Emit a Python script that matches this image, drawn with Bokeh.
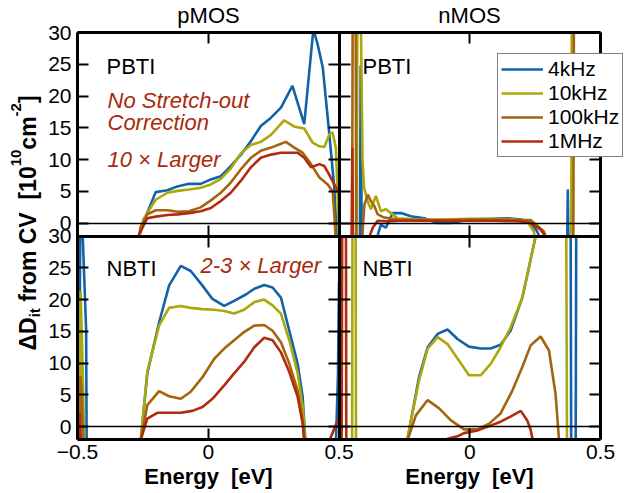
import math
from bokeh.plotting import figure
from bokeh.models import Range1d, LinearAxis, FixedTicker, Label, Legend, LegendItem
from bokeh.embed import file_html
from bokeh.resources import INLINE

nan = float("nan")

FREQS = ["4kHz", "10kHz", "100kHz", "1MHz"]
COLORS = ["#1262a8", "#aaa80c", "#a3650e", "#b12c0e"]
X_TICKS = [-0.5, 0.0, 0.5]          # each panel
Y_TICKS = [0, 5, 10, 15, 20, 25, 30]  # each panel
E_RANGE = (-0.5, 0.5)
V_RANGE = (-2.0, 30.0)
FONT = "Liberation Sans"

# ---------------- pMOS, PBTI (top left) ----------------
PP_E_4K = [-0.272, -0.247, -0.201, -0.156, -0.118, -0.074, -0.029, 0.010, 0.048, 0.086, 0.125, 0.163,
           0.201, 0.240, 0.278, 0.322, 0.367, 0.402, 0.418, 0.438, 0.463, 0.482, 0.492]
PP_V_4K = [-3.0, 0.3, 4.9, 5.2, 5.8, 6.2, 6.2, 6.9, 7.4, 9.0, 10.8, 12.9,
           15.3, 16.6, 18.2, 21.6, 15.6, 30.5, 28.2, 24.5, 14.0, 5.6, -3.0]
PP_E_10K = [-0.270, -0.247, -0.201, -0.156, -0.118, -0.074, -0.029, 0.010, 0.048, 0.086, 0.125, 0.163,
            0.201, 0.240, 0.290, 0.329, 0.367, 0.399, 0.425, 0.444, 0.463, 0.475, 0.488, 0.494, 0.500]
PP_V_10K = [-3.0, 0.7, 3.7, 4.8, 5.1, 5.3, 5.6, 6.1, 7.0, 8.6, 11.0, 12.3,
            12.8, 13.9, 16.2, 15.2, 14.9, 12.7, 12.1, 12.0, 14.0, 14.3, 11.9, 5.6, -2.0]
PP_E_100K = [-0.268, -0.259, -0.233, -0.201, -0.156, -0.118, -0.074, -0.029, 0.010, 0.048, 0.086, 0.125,
             0.163, 0.201, 0.240, 0.271, 0.297, 0.329, 0.361, 0.393, 0.425, 0.457, 0.476, 0.482, 0.488]
PP_V_100K = [-3.0, -0.6, 1.4, 2.05, 2.05, 1.8, 1.9, 2.5, 3.6, 4.8, 6.4, 8.5,
             10.3, 11.4, 11.9, 12.4, 12.8, 11.9, 11.1, 9.3, 7.2, 6.1, 5.0, 1.4, -3.0]
PP_E_1M = [-0.272, -0.265, -0.233, -0.201, -0.156, -0.118, -0.074, -0.029, 0.010, 0.048, 0.086, 0.125,
           0.163, 0.201, 0.240, 0.278, 0.316, 0.342, 0.367, 0.393, 0.425, 0.444, 0.463, 0.482, 0.500]
PP_V_1M = [-3.0, -1.8, 0.8, 1.05, 1.3, 1.4, 1.6, 1.9, 2.4, 3.5, 4.8, 6.7,
           8.8, 10.3, 10.8, 11.1, 11.1, 11.1, 10.3, 8.8, 9.3, 9.0, 7.6, 6.1, 4.8]

# ---------------- pMOS, NBTI (bottom left) ----------------
PN_E_4K = [-0.493, -0.489, -0.467, -0.465, nan,
           -0.259, -0.233, -0.188, -0.150, -0.105, -0.067, -0.022, 0.016, 0.061, 0.099, 0.144, 0.176,
           0.214, 0.246, 0.278, 0.310, 0.342, 0.361, 0.372, nan,
           0.488, 0.496, 0.502]
PN_V_4K = [-3.0, 40.0, 15.3, -3.0, nan,
           -2.5, 8.4, 16.4, 22.2, 25.3, 24.5, 22.2, 20.1, 19.0, 19.8, 20.8, 21.7,
           22.3, 21.9, 20.3, 15.1, 9.9, 4.7, -2.5, nan,
           -3.0, 8.0, 30.0]
PN_E_10K = [-0.491, -0.4885, -0.483, -0.478, -0.475, nan,
            -0.259, -0.233, -0.188, -0.150, -0.105, -0.067, -0.022, 0.023, 0.061, 0.099, 0.137, 0.176,
            0.214, 0.246, 0.278, 0.310, 0.342, 0.361, 0.372]
PN_V_10K = [-3.0, 21.4, 14.0, 5.0, -3.0, nan,
            -2.5, 8.7, 15.9, 18.7, 19.0, 18.7, 18.5, 18.4, 18.2, 17.8, 18.4, 19.6,
            20.0, 19.1, 17.8, 13.6, 8.4, 3.2, -2.5]
PN_E_100K = [-0.492, -0.489, -0.483, -0.478, nan,
             -0.259, -0.233, -0.188, -0.150, -0.105, -0.067, -0.022, 0.023, 0.061, 0.099, 0.137, 0.176,
             0.214, 0.246, 0.278, 0.310, 0.342, 0.361, 0.368]
PN_V_100K = [-3.0, 8.0, 5.0, -3.0, nan,
             -2.5, 3.4, 5.6, 4.8, 4.4, 5.5, 7.8, 10.7, 12.3, 13.6, 14.9, 15.9,
             16.0, 15.1, 13.3, 9.9, 5.7, 1.0, -2.5]
PN_E_1M = [-0.494, -0.491, -0.487, nan,
           -0.262, -0.233, -0.195, -0.150, -0.105, -0.061, -0.022, 0.016, 0.061, 0.099, 0.137, 0.176,
           0.214, 0.246, 0.278, 0.310, 0.342, 0.361, 0.368, nan,
           0.455, 0.475, 0.490, 0.500]
PN_V_1M = [-3.0, 2.1, -3.0, nan,
           -2.5, 1.3, 2.2, 2.2, 2.2, 2.5, 3.1, 4.4, 6.5, 8.4, 10.2, 12.5,
           14.0, 13.6, 11.7, 8.6, 4.7, 0.5, -2.5, nan,
           -3.0, -1.0, 0.5, 1.5]

# ---------------- nMOS, PBTI (top right) ----------------
NP_E_4K = [-0.420, -0.417, -0.413, nan,
           -0.360, -0.340, -0.321, -0.295, -0.263, -0.225, -0.174, -0.123, -0.073, 0.004, 0.080, 0.144,
           0.195, 0.233, 0.258, 0.275, nan,
           0.372, 0.375, 0.378]
NP_V_4K = [-5.0, 24.8, -5.0, nan,
           -3.0, -0.2, -0.7, 1.6, 1.6, 1.1, 0.8, 0.05, 0.05, 0.6, 0.7, 0.8,
           0.6, 0.1, -1.3, -3.0, nan,
           -5.0, 5.3, -5.0]
NP_E_10K = [-0.432, -0.429, -0.420, -0.410, -0.404, -0.391, -0.378, -0.359, -0.340, -0.321, -0.295,
            -0.276, -0.200, -0.100, 0.000, 0.100, 0.170, 0.220, 0.245, 0.260, nan,
            0.388, 0.391]
NP_V_10K = [-5.0, 45.0, 45.0, 9.8, 5.6, 3.5, 2.2, 4.3, 1.9, 2.2, 1.4,
            0.8, 0.6, 0.6, 0.7, 0.7, 0.6, 0.3, -1.3, -5.0, nan,
            -5.0, 45.0]
NP_E_100K = [-0.450, -0.447, -0.437, -0.434, nan,
             -0.412, -0.403, -0.390, -0.378, -0.365, -0.352, -0.327, -0.276, -0.200, -0.100, 0.000,
             0.100, 0.200, 0.233, 0.284, 0.296, 0.300, nan,
             0.396, 0.399]
NP_V_100K = [-5.0, 45.0, 45.0, -5.0, nan,
             -3.0, 2.9, 4.5, 3.5, 2.7, 1.4, 0.9, 0.6, 0.5, 0.5, 0.6,
             0.6, 0.5, 0.5, -1.3, -2.8, -5.0, nan,
             -5.0, 45.0]
NP_E_1M = [-0.452, -0.449, -0.446, nan,
           -0.400, -0.390, -0.371, -0.352, -0.313, -0.275, -0.200, -0.100, 0.000, 0.100, 0.195,
           0.233, 0.271, 0.303, 0.310]
NP_V_1M = [-5.0, 11.9, -5.0, nan,
           -5.0, -2.8, -0.7, 0.4, 0.3, 0.4, 0.4, 0.4, 0.4, 0.4, 0.3,
           0.05, -1.0, -2.8, -5.0]

# ---------------- nMOS, NBTI (bottom right) ----------------
NN_E_4K = [-0.245, -0.238, -0.194, -0.161, -0.123, -0.085, -0.047, -0.003, 0.042, 0.080, 0.118, 0.156,
           0.201, 0.226, 0.252, 0.270, 0.385, 0.388, nan,
           0.405, 0.408]
NN_V_4K = [-5.0, -1.9, 7.8, 12.5, 14.6, 15.3, 13.8, 12.6, 12.3, 12.3, 12.9, 15.1,
           20.3, 25.0, 30.0, 45.0, 45.0, -5.0, nan,
           -5.0, 45.0]
NN_E_10K = [-0.450, -0.448, -0.437, -0.435, nan,
            -0.245, -0.238, -0.194, -0.161, -0.123, -0.085, -0.041, -0.003, 0.042, 0.080, 0.118, 0.156,
            0.201, 0.226, 0.252, 0.270, 0.368, 0.372]
NN_V_10K = [-5.0, 45.0, 45.0, -5.0, nan,
            -5.0, -1.9, 7.3, 12.3, 14.1, 13.0, 10.4, 8.1, 8.1, 9.9, 12.5, 15.6,
            20.3, 25.0, 30.0, 45.0, 45.0, -5.0]
NN_E_100K = [-0.245, -0.236, -0.206, -0.161, -0.117, -0.073, -0.022, 0.029, 0.074, 0.118, 0.163,
             0.201, 0.233, 0.271, 0.303, 0.328, 0.341, 0.345]
NN_V_100K = [-5.0, -1.9, 1.8, 4.2, 2.9, 1.05, -0.4, -0.4, 0.5, 2.1, 5.7,
             9.4, 12.8, 14.2, 12.0, 5.2, -1.9, -5.0]
NN_E_1M = [-0.490, -0.487, -0.474, -0.472, nan,
           -0.100, -0.085, -0.047, -0.022, 0.029, 0.074, 0.118, 0.156, 0.195, 0.220, 0.233, 0.240, 0.245]
NN_V_1M = [-5.0, 45.0, 45.0, -5.0, nan,
           -3.0, -1.9, -1.5, -1.0, -0.6, 0.1, 0.8, 1.6, 2.5, 1.0, -0.5, -1.9, -3.0]

# panel -> (x range name, y range name, series)
PANELS = {
    "tl": ("default", "top", [(PP_E_4K, PP_V_4K), (PP_E_10K, PP_V_10K), (PP_E_100K, PP_V_100K), (PP_E_1M, PP_V_1M)]),
    "bl": ("default", "default", [(PN_E_4K, PN_V_4K), (PN_E_10K, PN_V_10K), (PN_E_100K, PN_V_100K), (PN_E_1M, PN_V_1M)]),
    "tr": ("right", "top", [(NP_E_4K, NP_V_4K), (NP_E_10K, NP_V_10K), (NP_E_100K, NP_V_100K), (NP_E_1M, NP_V_1M)]),
    "br": ("right", "default", [(NN_E_4K, NN_V_4K), (NN_E_10K, NN_V_10K), (NN_E_100K, NN_V_100K), (NN_E_1M, NN_V_1M)]),
}


def clip_to_panel(xs, ys, x0=E_RANGE[0], x1=E_RANGE[1], y0=V_RANGE[0], y1=V_RANGE[1]):
    """Cut a polyline to one panel's box (what a per-panel clip region does)."""
    ox, oy, last = [], [], None
    for i in range(len(xs) - 1):
        ax, ay, bx, by = xs[i], ys[i], xs[i + 1], ys[i + 1]
        if any(math.isnan(t) for t in (ax, ay, bx, by)):
            last = None
            continue
        dx, dy = bx - ax, by - ay
        t0, t1, ok = 0.0, 1.0, True
        for pp, q in ((-dx, ax - x0), (dx, x1 - ax), (-dy, ay - y0), (dy, y1 - ay)):
            if pp == 0:
                if q < 0:
                    ok = False
                    break
            else:
                r = q / pp
                if pp < 0:
                    if r > t1:
                        ok = False
                        break
                    t0 = max(t0, r)
                else:
                    if r < t0:
                        ok = False
                        break
                    t1 = min(t1, r)
        if not ok:
            last = None
            continue
        sx, sy = ax + t0 * dx, ay + t0 * dy
        ex, ey = ax + t1 * dx, ay + t1 * dy
        if last is None or abs(last[0] - sx) > 1e-12 or abs(last[1] - sy) > 1e-12:
            if ox:
                ox.append(nan)
                oy.append(nan)
            ox.append(sx)
            oy.append(sy)
        ox.append(ex)
        oy.append(ey)
        last = (ex, ey)
    return ox, oy


# ---- page geometry (pixels): the 2x2 block sits inside a full-page frame ----
CW, CH = 626, 493
BOX_L, BOX_R, BOX_T, BOX_B = 77, 600, 32, 439
DXP = E_RANGE[1] - E_RANGE[0]
DYP = V_RANGE[1] - V_RANGE[0]
sx = (BOX_R - BOX_L) / (2 * DXP)
sy = (BOX_B - BOX_T) / (2 * DYP)
X0 = E_RANGE[0] - BOX_L / sx
X1 = E_RANGE[0] + 2 * DXP + (CW - BOX_R) / sx
Y0 = V_RANGE[0] - (CH - BOX_B) / sy
Y1 = V_RANGE[0] + 2 * DYP + BOX_T / sy

p = figure(width=CW, height=CH, x_range=Range1d(X0, X1), y_range=Range1d(Y0, Y1),
           x_axis_location=None, y_axis_location=None,
           output_backend="svg", toolbar_location=None, min_border=0,
           background_fill_color="white", border_fill_color="white")
p.extra_x_ranges = {"right": Range1d(X0 - DXP, X1 - DXP)}
p.extra_y_ranges = {"top": Range1d(Y0 - DYP, Y1 - DYP)}
p.grid.visible = False
p.outline_line_color = None

renderers = {}
for key, (xr, yr, series) in PANELS.items():
    rs = []
    for (e, v), c in zip(series, COLORS):
        ce, cv = clip_to_panel(e, v)
        rs.append(p.line(ce, cv, line_color=c, line_width=2.6, x_range_name=xr, y_range_name=yr))
    renderers[key] = rs

XL, XM, XR = E_RANGE[0], E_RANGE[1], E_RANGE[0] + 2 * DXP
YB, YM, YT = V_RANGE[0], V_RANGE[1], V_RANGE[0] + 2 * DYP
x_ticks_all = X_TICKS + [t + DXP for t in X_TICKS[1:]]
x_over = {float(t + DXP): f"{t:g}" for t in X_TICKS[1:]}
y_ticks_all = Y_TICKS + [t + DYP for t in Y_TICKS]
y_over = {float(t + DYP): f"{t:g}" for t in Y_TICKS}


def frame_axis(side, loc, ticks, bounds, show=False, overrides=None, tin=11, tout=0,
               lw=3.0, standoff=6):
    ax = LinearAxis(fixed_location=loc, bounds=bounds, ticker=FixedTicker(ticks=ticks))
    ax.axis_line_color = "black"
    ax.axis_line_width = lw
    ax.major_tick_in = tin
    ax.major_tick_out = tout
    ax.major_tick_line_width = 2
    ax.major_tick_line_color = "black"
    ax.minor_tick_line_color = None
    ax.minor_tick_in = 0
    ax.minor_tick_out = 0
    if show:
        ax.major_label_text_font = FONT
        ax.major_label_text_font_size = "21px"
        ax.major_label_text_color = "black"
        ax.major_label_standoff = standoff
        if overrides:
            ax.major_label_overrides = overrides
    else:
        ax.major_label_text_font_size = "0px"
        ax.major_label_standoff = 0
        ax.major_label_overrides = {float(t): "" for t in ticks}
    p.add_layout(ax, side)
    return ax


# zero lines of the four panels
frame_axis("below", 0.0, [], (XL, XR), lw=1.3, tin=0)
frame_axis("below", 0.0 + DYP, [], (XL, XR), lw=1.3, tin=0)
# outer frame with inward ticks and labels
frame_axis("left", XL, y_ticks_all, (YB, YT), show=True, overrides=y_over, standoff=6)
frame_axis("right", XR, y_ticks_all, (YB, YT))
frame_axis("below", YB, x_ticks_all, (XL, XR), show=True, overrides=x_over, standoff=5)
frame_axis("above", YT, x_ticks_all, (XL, XR))
# separators, ticks on both sides
frame_axis("left", XM, y_ticks_all, (YB, YT), tout=11)
frame_axis("below", YM, x_ticks_all, (XL, XR), tout=11)

RED_TXT = "#a82a0c"
BASE_FIX = 0.32   # em: lifts text so its alphabetic baseline lands on the given pixel row


def add_text(x, y, text, size=22, color="black", style="normal", align="left", rotated=False):
    d = BASE_FIX * size
    if rotated:
        x, y, ang = x - d, y, math.pi / 2
    else:
        x, y, ang = x, y + d, 0.0
    p.add_layout(Label(x=x, y=y, x_units="screen", y_units="screen", text=text, angle=ang,
                       text_font=FONT, text_font_size=f"{size}px", text_color=color,
                       text_font_style=style, text_align=align, text_baseline="alphabetic"))


# positions: pixels from the left / bottom edge of the page
add_text(208, 471, "pMOS", align="center")
add_text(469, 471, "nMOS", align="center")
add_text(106, 420, "PBTI")
add_text(107, 386, "No Stretch-out", color=RED_TXT, style="italic")
add_text(107, 364, "Correction", color=RED_TXT, style="italic")
add_text(107, 327, "10 \u00d7 Larger", color=RED_TXT, style="italic")
add_text(362, 420, "PBTI")
add_text(106, 218, "NBTI")
add_text(200, 221, "2-3 \u00d7 Larger", color=RED_TXT, style="italic")
add_text(362, 218, "NBTI")
add_text(208, 10, "Energy\u00a0 [eV]", style="bold", align="center")
add_text(469, 10, "Energy\u00a0 [eV]", style="bold", align="center")

# rotated y title with subscript / superscripts
BIG, SMALL = 23, 15
W = {" ": .278, "\u00a0": .278, "f": .333, "r": .389, "o": .611, "m": .889, "C": .722, "V": .667,
     "[": .333, "]": .333, "1": .556, "0": .556, "c": .556, "-": .333, "2": .556, "i": .278,
     "t": .333, "D": .722, "\u0394": .72}
pieces = [("\u0394D", BIG, 35), ("it", SMALL, 39), ("\u00a0from\u00a0CV\u00a0\u00a0[10", BIG, 35),
          ("10", SMALL, 20), ("cm", BIG, 35), ("-2", SMALL, 20), ("]", BIG, 35)]
ypos = 143.0
for txt, sz, xb in pieces:
    add_text(xb, ypos, txt, size=sz, style="bold", rotated=True)
    ypos += sum(W.get(ch, 0.55) for ch in txt) * sz

legend = Legend(items=[LegendItem(label=f, renderers=[r]) for f, r in zip(FREQS, renderers["tr"])],
                location=(497, 336), orientation="vertical")
legend.label_text_font = FONT
legend.label_text_font_size = "21px"
legend.label_text_color = "black"
legend.glyph_width = 42
legend.glyph_height = 22
legend.label_height = 22
legend.spacing = -3
legend.padding = 3
legend.margin = 0
legend.label_standoff = 5
legend.border_line_color = "black"
legend.border_line_width = 1.5
legend.background_fill_color = "white"
legend.background_fill_alpha = 1.0
p.add_layout(legend)

open("out.html", "w").write(file_html(p, INLINE))
